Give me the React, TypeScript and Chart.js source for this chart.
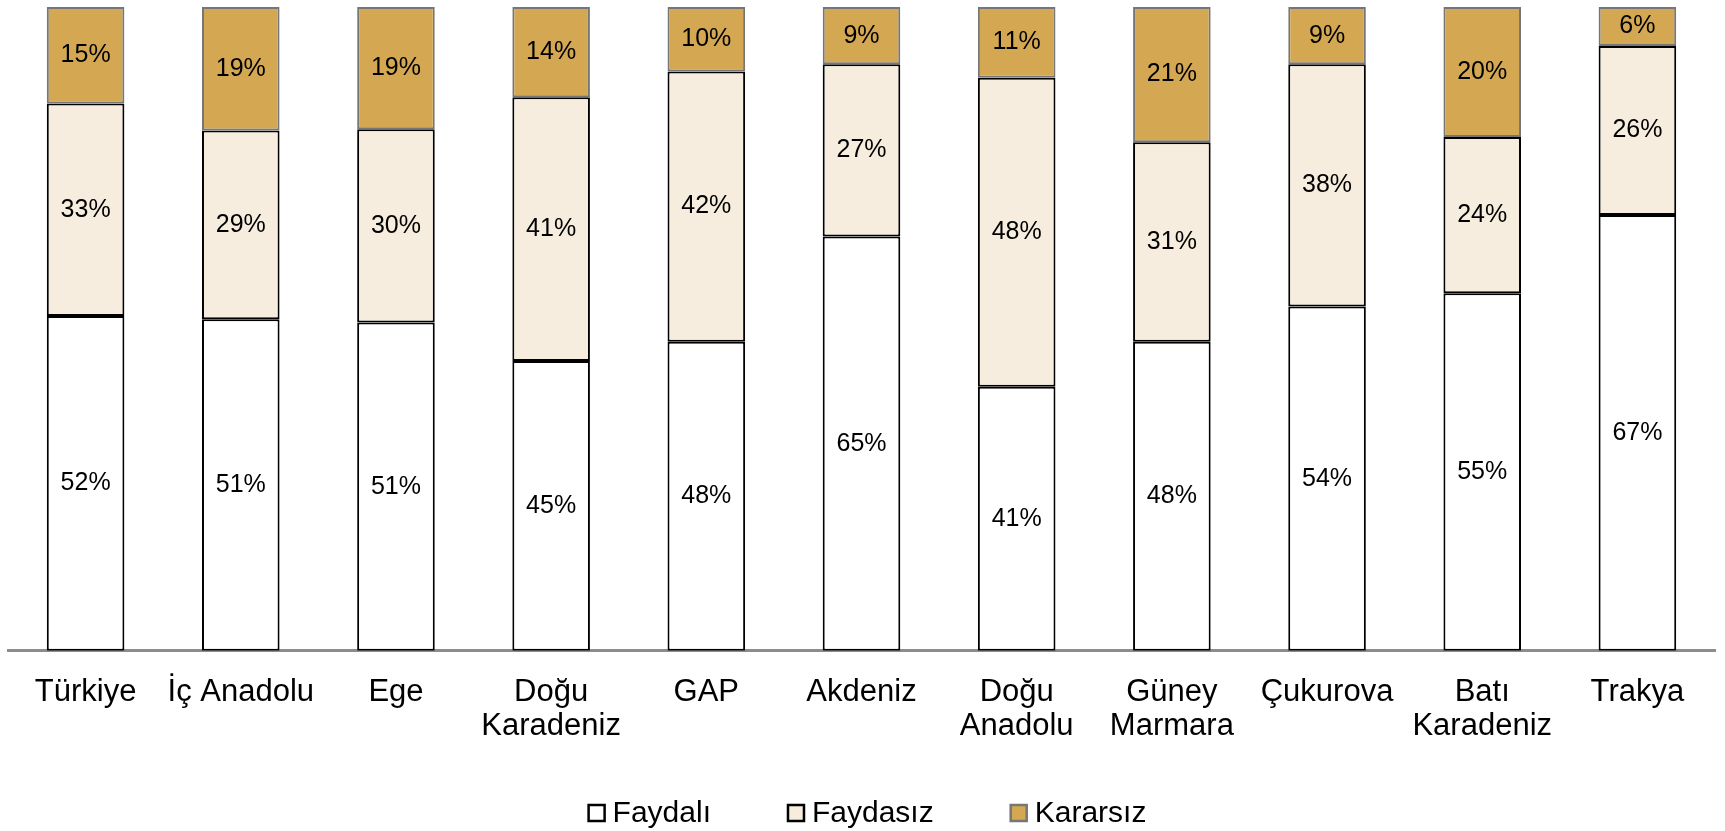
import React, { useEffect, useRef } from "react";
import { Chart, registerables } from "chart.js";

Chart.register(...registerables);

const categories = [
  "Türkiye",
  "İç Anadolu",
  "Ege",
  "Doğu\nKaradeniz",
  "GAP",
  "Akdeniz",
  "Doğu\nAnadolu",
  "Güney\nMarmara",
  "Çukurova",
  "Batı\nKaradeniz",
  "Trakya",
];

const faydali = [52, 51, 51, 45, 48, 65, 41, 48, 54, 55, 67];
const faydasiz = [33, 29, 30, 41, 42, 27, 48, 31, 38, 24, 26];
const kararsiz = [15, 19, 19, 14, 10, 9, 11, 21, 9, 20, 6];

const seriesNames = ["Faydalı", "Faydasız", "Kararsız"];

const FONT = "'Liberation Sans', Arial, sans-serif";

const totals = categories.map((_, i) => faydali[i] + faydasiz[i] + kararsiz[i]);
const norm = (arr: number[]) => arr.map((v, i) => (v / totals[i]) * 100);

const labelPlugin = {
  id: "segLabels",
  afterDatasetsDraw(chart: any) {
    const ctx = chart.ctx;
    ctx.save();
    ctx.font = `25px ${FONT}`;
    ctx.fillStyle = "#000";
    ctx.textAlign = "center";
    ctx.textBaseline = "middle";
    chart.data.datasets.forEach((ds: any, di: number) => {
      const meta = chart.getDatasetMeta(di);
      meta.data.forEach((bar: any, i: number) => {
        const raw = ds.rawValues[i];
        const yc = (bar.y + bar.base) / 2;
        ctx.fillText(raw + "%", bar.x, yc);
      });
    });
    ctx.restore();
  },
};

const legendPlugin = {
  id: "customLegend",
  afterDraw(chart: any) {
    const ctx = chart.ctx;
    ctx.save();
    ctx.font = `30px ${FONT}`;
    ctx.textBaseline = "middle";
    ctx.textAlign = "left";
    const box = 16;
    const gapBoxText = 8;
    const gapItems = 77;
    const items = chart.data.datasets.map((ds: any) => ({
      label: ds.label,
      fill: ds.backgroundColor,
      stroke: ds.borderColor,
      w: ctx.measureText(ds.label).width,
    }));
    const total =
      items.reduce((s: number, it: any) => s + box + gapBoxText + it.w, 0) +
      gapItems * (items.length - 1);
    let x = chart.width / 2 - total / 2 + 5;
    const yc = chart.height - 18;
    items.forEach((it: any) => {
      ctx.fillStyle = it.fill;
      ctx.fillRect(x, yc - box / 2, box, box);
      ctx.lineWidth = 2.5;
      ctx.strokeStyle = it.stroke;
      ctx.strokeRect(x, yc - box / 2, box, box);
      ctx.fillStyle = "#000";
      ctx.fillText(it.label, x + box + gapBoxText, yc + 1);
      x += box + gapBoxText + it.w + gapItems;
    });
    ctx.restore();
  },
};

export default function App() {
  const ref = useRef<HTMLCanvasElement | null>(null);
  useEffect(() => {
    if (!ref.current) return;
    const chart = new Chart(ref.current, {
      type: "bar",
      data: {
        labels: categories.map((c) => c.split("\n")),
        datasets: [
          {
            label: seriesNames[0],
            data: norm(faydali),
            rawValues: faydali,
            backgroundColor: "#FFFFFF",
            borderColor: "#000000",
            borderWidth: 2,
            borderSkipped: false,
          } as any,
          {
            label: seriesNames[1],
            data: norm(faydasiz),
            rawValues: faydasiz,
            backgroundColor: "#F6EDDE",
            borderColor: "#000000",
            borderWidth: 2,
            borderSkipped: false,
          } as any,
          {
            label: seriesNames[2],
            data: norm(kararsiz),
            rawValues: kararsiz,
            backgroundColor: "#D4A853",
            borderColor: "#767676",
            borderWidth: 2,
            borderSkipped: false,
          } as any,
        ],
      },
      options: {
        animation: false,
        responsive: false,
        maintainAspectRatio: false,
        layout: { padding: { left: 8, right: 10, top: 7, bottom: 62 } },
        datasets: {
          bar: { barPercentage: 0.5, categoryPercentage: 1 },
        },
        scales: {
          x: {
            stacked: true,
            grid: { display: false, drawTicks: false },
            border: { display: true, color: "#8c8c8c", width: 3 },
            ticks: {
              color: "#000",
              font: { family: FONT, size: 31, lineHeight: 1.1 },
              padding: 25,
              maxRotation: 0,
              autoSkip: false,
            },
          },
          y: {
            stacked: true,
            display: false,
            min: 0,
            max: 100,
          },
        },
        plugins: {
          tooltip: { enabled: false },
          legend: { display: false },
        },
      },
      plugins: [labelPlugin, legendPlugin],
    });
    return () => chart.destroy();
  }, []);
  return (
    <div style={{ position: "fixed", left: 0, top: 0, width: 1725, height: 831, background: "#fff" }}>
      <canvas ref={ref} width={1725} height={831} style={{ width: 1725, height: 831, display: "block" }} />
    </div>
  );
}
